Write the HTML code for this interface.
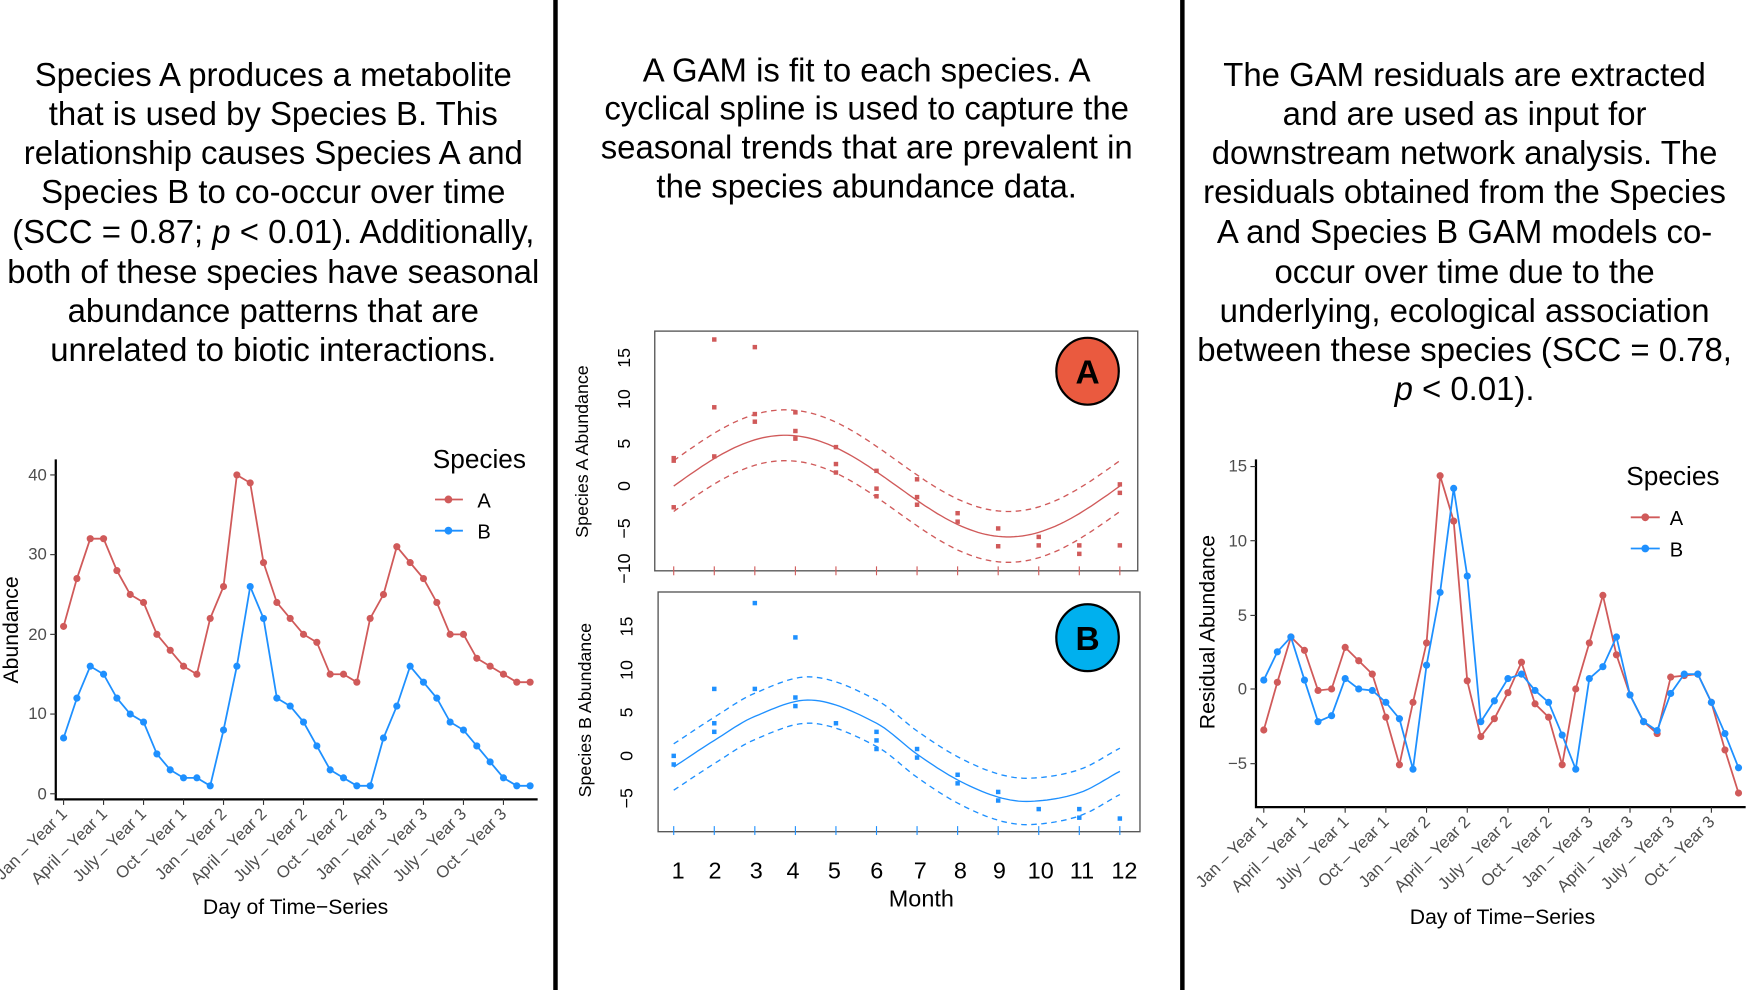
<!DOCTYPE html>
<html><head><meta charset="utf-8"><style>
html,body{margin:0;padding:0;background:#fff;}
svg{display:block;font-family:"Liberation Sans",Arial,sans-serif;}
.t{font-size:29.5px;fill:#000;text-anchor:middle;}
.tk{font-size:15px;fill:#4d4d4d;}
.ax{font-size:19px;fill:#000;}
.mt{font-size:16px;fill:#000;}
</style></head><body>
<svg id="s" width="1749" height="990" viewBox="0 0 1568 888" preserveAspectRatio="none" xmlns="http://www.w3.org/2000/svg">
<rect width="1568" height="888" fill="#fff"/>
<rect x="496" y="0" width="4" height="888" fill="#000"/>
<rect x="1058" y="0" width="4" height="888" fill="#000"/>

<g class="t">
<text x="245" y="77">Species A produces a metabolite</text>
<text x="245" y="112">that is used by Species B. This</text>
<text x="245" y="147">relationship causes Species A and</text>
<text x="245" y="182">Species B to co-occur over time</text>
<text x="245" y="218">(SCC = 0.87; <tspan font-style="italic">p</tspan> &lt; 0.01). Additionally,</text>
<text x="245" y="254">both of these species have seasonal</text>
<text x="245" y="289">abundance patterns that are</text>
<text x="245" y="324">unrelated to biotic interactions.</text>
<text x="777" y="73">A GAM is fit to each species. A</text>
<text x="777" y="107">cyclical spline is used to capture the</text>
<text x="777" y="142">seasonal trends that are prevalent in</text>
<text x="777" y="177">the species abundance data.</text>
<text x="1313" y="77">The GAM residuals are extracted</text>
<text x="1313" y="112">and are used as input for</text>
<text x="1313" y="147">downstream network analysis. The</text>
<text x="1313" y="182">residuals obtained from the Species</text>
<text x="1313" y="218">A and Species B GAM models co-</text>
<text x="1313" y="254">occur over time due to the</text>
<text x="1313" y="289">underlying, ecological association</text>
<text x="1313" y="324">between these species (SCC = 0.78,</text>
<text x="1313" y="359"><tspan font-style="italic">p</tspan> &lt; 0.01).</text>
</g>

<!-- left chart -->
<g class="tk" text-anchor="end">
<text x="42" y="431">40</text><text x="42" y="502">30</text><text x="42" y="574">20</text><text x="42" y="645">10</text><text x="42" y="717">0</text>
</g>
<text class="ax" transform="translate(16,565) rotate(-90)" text-anchor="middle">Abundance</text>
<text class="ax" x="265" y="820" text-anchor="middle">Day of Time−Series</text>
<g class="tk" text-anchor="end">
<text transform="translate(61,731) rotate(-45)">Jan – Year 1</text>
<text transform="translate(97,731) rotate(-45)">April – Year 1</text>
<text transform="translate(132,731) rotate(-45)">July – Year 1</text>
<text transform="translate(168,731) rotate(-45)">Oct – Year 1</text>
<text transform="translate(204,731) rotate(-45)">Jan – Year 2</text>
<text transform="translate(240,731) rotate(-45)">April – Year 2</text>
<text transform="translate(276,731) rotate(-45)">July – Year 2</text>
<text transform="translate(312,731) rotate(-45)">Oct – Year 2</text>
<text transform="translate(348,731) rotate(-45)">Jan – Year 3</text>
<text transform="translate(384,731) rotate(-45)">April – Year 3</text>
<text transform="translate(419,731) rotate(-45)">July – Year 3</text>
<text transform="translate(455,731) rotate(-45)">Oct – Year 3</text>
</g>
<text x="388" y="420" font-size="23.5">Species</text>
<text x="428" y="455" font-size="18">A</text>
<text x="428" y="483" font-size="18">B</text>

<!-- right chart -->
<g class="tk" text-anchor="end">
<text x="1118" y="423">15</text><text x="1118" y="490">10</text><text x="1118" y="557">5</text><text x="1118" y="623">0</text><text x="1118" y="690">−5</text>
</g>
<text class="ax" transform="translate(1089,567) rotate(-90)" text-anchor="middle">Residual Abundance</text>
<text class="ax" x="1347" y="829" text-anchor="middle">Day of Time−Series</text>
<g class="tk" text-anchor="end">
<text transform="translate(1137,738) rotate(-45)">Jan – Year 1</text>
<text transform="translate(1173,738) rotate(-45)">April – Year 1</text>
<text transform="translate(1210,738) rotate(-45)">July – Year 1</text>
<text transform="translate(1246,738) rotate(-45)">Oct – Year 1</text>
<text transform="translate(1283,738) rotate(-45)">Jan – Year 2</text>
<text transform="translate(1319,738) rotate(-45)">April – Year 2</text>
<text transform="translate(1356,738) rotate(-45)">July – Year 2</text>
<text transform="translate(1392,738) rotate(-45)">Oct – Year 2</text>
<text transform="translate(1429,738) rotate(-45)">Jan – Year 3</text>
<text transform="translate(1465,738) rotate(-45)">April – Year 3</text>
<text transform="translate(1502,738) rotate(-45)">July – Year 3</text>
<text transform="translate(1538,738) rotate(-45)">Oct – Year 3</text>
</g>
<text x="1458" y="435" font-size="23.5">Species</text>
<text x="1497" y="471" font-size="18">A</text>
<text x="1497" y="499" font-size="18">B</text>

<!-- middle -->
<rect x="587" y="297" width="433" height="215" fill="none" stroke="#555" stroke-width="1.2"/>
<rect x="590" y="531" width="432" height="215" fill="none" stroke="#555" stroke-width="1.2"/>
<g class="mt" text-anchor="middle">
<text transform="translate(565,321) rotate(-90)">15</text>
<text transform="translate(565,358) rotate(-90)">10</text>
<text transform="translate(565,398) rotate(-90)">5</text>
<text transform="translate(565,436) rotate(-90)">0</text>
<text transform="translate(565,474) rotate(-90)">−5</text>
<text transform="translate(565,510) rotate(-90)">−10</text>
<text transform="translate(567,562) rotate(-90)">15</text>
<text transform="translate(567,601) rotate(-90)">10</text>
<text transform="translate(567,639) rotate(-90)">5</text>
<text transform="translate(567,678) rotate(-90)">0</text>
<text transform="translate(567,716) rotate(-90)">−5</text>
<text transform="translate(527,405) rotate(-90)">Species A Abundance</text>
<text transform="translate(530,637) rotate(-90)">Species B Abundance</text>
</g>
<g font-size="21" text-anchor="middle">
<text x="608" y="788">1</text><text x="641" y="788">2</text><text x="678" y="788">3</text><text x="711" y="788">4</text><text x="748" y="788">5</text><text x="786" y="788">6</text><text x="825" y="788">7</text><text x="861" y="788">8</text><text x="896" y="788">9</text><text x="933" y="788">10</text><text x="970" y="788">11</text><text x="1008" y="788">12</text>
<text x="826" y="813">Month</text>
</g>
<ellipse cx="975" cy="333" rx="28" ry="30" fill="#ea5a3f" stroke="#000" stroke-width="2"/>
<text x="975" y="344" font-size="30" font-weight="bold" text-anchor="middle">A</text>
<ellipse cx="975" cy="572" rx="28" ry="30" fill="#00b0ee" stroke="#000" stroke-width="2"/>
<text x="975" y="583" font-size="30" font-weight="bold" text-anchor="middle">B</text>
<g id="dyn"></g>
</svg>
<script>
var NS="http://www.w3.org/2000/svg",g=document.getElementById("dyn");
function el(n,a){var e=document.createElementNS(NS,n);for(var k in a)e.setAttribute(k,a[k]);g.appendChild(e);return e;}
var R="#d05a5a",B="#1e90ff";
el("path",{d:"M50,412V717H482",fill:"none",stroke:"#000","stroke-width":2});
[426,497.5,569,640.5,712].forEach(function(y){el("line",{x1:45,x2:50,y1:y,y2:y,stroke:"#333"})});
for(var i=0;i<12;i++){var x=57+i*3*11.95;el("line",{x1:x,x2:x,y1:717,y2:722,stroke:"#333"});}
var A=[21,27,32,32,28,25,24,20,18,16,15,22,26,40,39,29,24,22,20,19,15,15,14,22,25,31,29,27,24,20,20,17,16,15,14,14];
var Bv=[7,12,16,15,12,10,9,5,3,2,2,1,8,16,26,22,12,11,9,6,3,2,1,1,7,11,16,14,12,9,8,6,4,2,1,1];
function series(v,x0,dx,fy,c){var p=v.map(function(d,i){return (x0+i*dx)+","+fy(d)}).join(" ");
el("polyline",{points:p,fill:"none",stroke:c,"stroke-width":1.6});
v.forEach(function(d,i){el("circle",{cx:x0+i*dx,cy:fy(d),r:3.2,fill:c})});}
series(A,57,11.95,function(d){return 712-d*7.15},R);
series(Bv,57,11.95,function(d){return 712-d*7.15},B);
el("line",{x1:390,x2:415,y1:448,y2:448,stroke:R,"stroke-width":1.6});el("circle",{cx:402,cy:448,r:3.5,fill:R});
el("line",{x1:390,x2:415,y1:476,y2:476,stroke:B,"stroke-width":1.6});el("circle",{cx:402,cy:476,r:3.5,fill:B});
el("path",{d:"M1126,412V724H1565",fill:"none",stroke:"#000","stroke-width":2});
[418.5,485,552,618,685].forEach(function(y){el("line",{x1:1121,x2:1126,y1:y,y2:y,stroke:"#333"})});
for(var i=0;i<12;i++){var x=1133+i*3*12.16;el("line",{x1:x,x2:x,y1:724,y2:729,stroke:"#333"});}
var RA=[-2.76,0.45,3.5,2.6,-0.1,0,2.8,1.9,1,-1.9,-5.1,-0.9,3.1,14.35,11.3,0.55,-3.2,-2,-0.25,1.8,-1,-1.9,-5.1,0,3.1,6.3,2.3,-0.4,-2.2,-3,0.8,0.9,1,-0.9,-4.1,-7];
var RB=[0.6,2.5,3.5,0.6,-2.2,-1.8,0.7,0,-0.1,-0.9,-2,-5.4,1.6,6.5,13.5,7.6,-2.2,-0.8,0.7,1,-0.1,-0.9,-3.1,-5.4,0.7,1.5,3.5,-0.4,-2.2,-2.8,-0.3,1,1,-0.9,-3,-5.3];
function fr(d){return 618-d*13.33}
series(RA,1133,12.16,fr,R);series(RB,1133,12.16,fr,B);
el("line",{x1:1462,x2:1488,y1:464,y2:464,stroke:R,"stroke-width":1.6});el("circle",{cx:1475,cy:464,r:3.5,fill:R});
el("line",{x1:1462,x2:1488,y1:492,y2:492,stroke:B,"stroke-width":1.6});el("circle",{cx:1475,cy:492,r:3.5,fill:B});
function mx(m){return 604+(m-1)*36.36}
function ya(v){return 436-v*7.6} function yb(v){return 678-v*7.7}
function curve(f,fy,c,off,dash){var p=[];for(var m=1;m<=12.001;m+=0.1)p.push(mx(m).toFixed(1)+","+fy(f(m)+off).toFixed(1));
var a={points:p.join(" "),fill:"none",stroke:c,"stroke-width":1.2};if(dash)a["stroke-dasharray"]="5,4";el("polyline",a);}
var fa=function(m){return 6*Math.sin(2*Math.PI*(m-1)/11)};
var KB=[[1,-1.3],[2,1.8],[3,4.6],[4.4,6.5],[6,3.8],[7,0.2],[8,-2.8],[9,-4.8],[9.8,-5.3],[11,-4.3],[12,-1.8]];
var fb=function(m){var n=KB.length;for(var i=0;i<n-1;i++){if(m<=KB[i+1][0]+1e-9)break;}if(i>=n-1)i=n-2;
var x0=KB[i][0],x1=KB[i+1][0],y0=KB[i][1],y1=KB[i+1][1],h=x1-x0;
function sl(j){if(j<=0)return (KB[1][1]-KB[0][1])/(KB[1][0]-KB[0][0]);if(j>=n-1)return (KB[n-1][1]-KB[n-2][1])/(KB[n-1][0]-KB[n-2][0]);return (KB[j+1][1]-KB[j-1][1])/(KB[j+1][0]-KB[j-1][0]);}
var m0=sl(i)*h,m1=sl(i+1)*h,t=(m-x0)/h,t2=t*t,t3=t2*t;
return (2*t3-3*t2+1)*y0+(t3-2*t2+t)*m0+(-2*t3+3*t2)*y1+(t3-t2)*m1;};
curve(fa,ya,R,0);curve(fa,ya,R,3,1);curve(fa,ya,R,-3,1);
curve(fb,yb,B,0);curve(fb,yb,B,2.7,1);curve(fb,yb,B,-2.7,1);
var PA=[[3.3,3,-2.5],[17.3,9.3,3.5],[16.4,8.5,7.6],[8.7,6.5,5.6],[4.6,2.6,1.6],[1.8,-0.3,-1.2],[0.8,-1.3,-2.2],[-3.2,-4.2],[-5,-7.1],[-6,-7],[-7,-8],[0.2,-0.8,-7]];
var PB=[[0,-1],[7.8,3.8,2.8],[17.8,7.8],[13.8,6.8,5.8],[3.8],[2.8,1.8,0.8],[0.8,-0.2],[-2.2,-3.2],[-4.2,-5.2],[-6.2],[-6.2,-7.2],[-7.3]];
PA.forEach(function(a,i){a.forEach(function(v){el("rect",{x:mx(i+1)-2,y:ya(v)-2,width:4,height:4,fill:R})});
el("line",{x1:mx(i+1),x2:mx(i+1),y1:508,y2:516,stroke:R});});
PB.forEach(function(a,i){a.forEach(function(v){el("rect",{x:mx(i+1)-2,y:yb(v)-2,width:4,height:4,fill:B})});
el("line",{x1:mx(i+1),x2:mx(i+1),y1:741,y2:749,stroke:B});});
</script>
</body></html>
